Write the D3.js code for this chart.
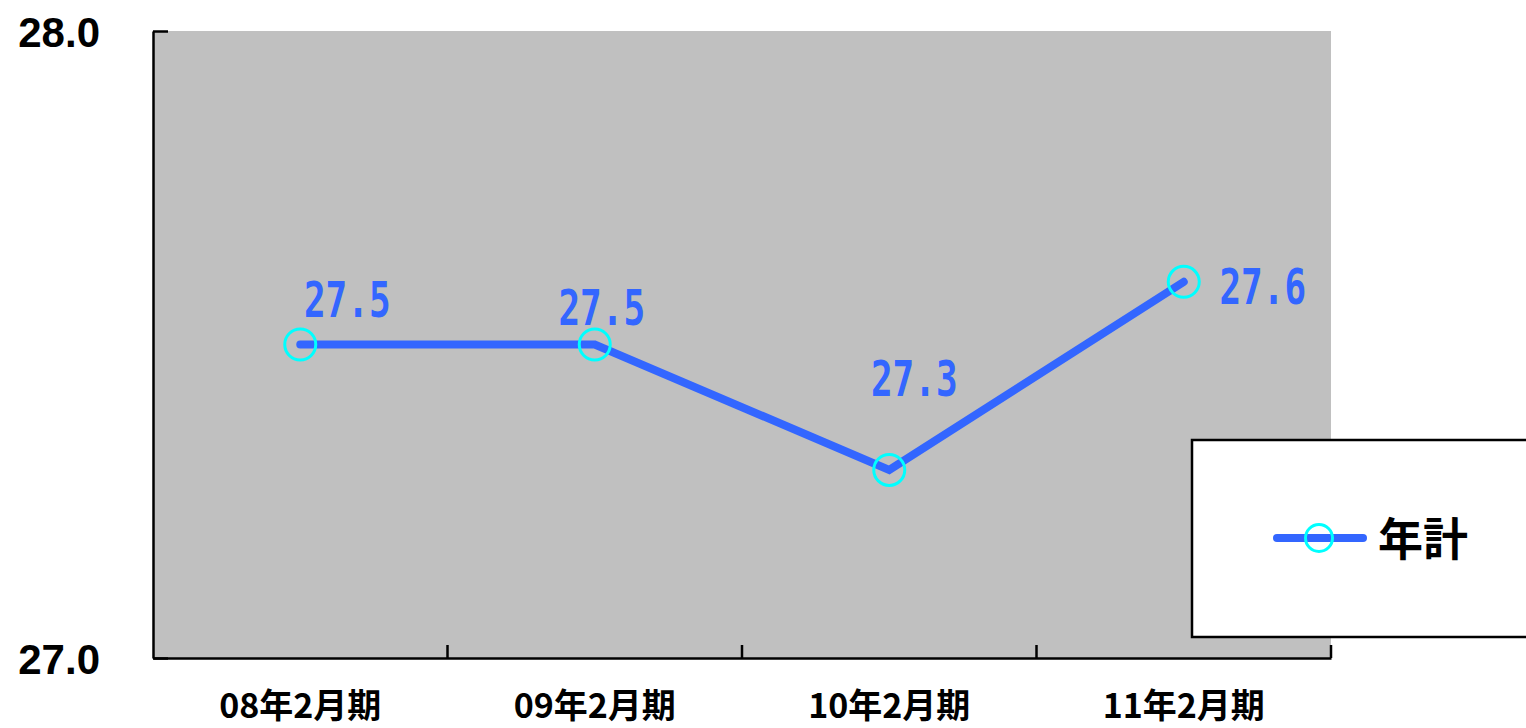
<!DOCTYPE html>
<html>
<head>
<meta charset="utf-8">
<script src="https://cdn.jsdelivr.net/npm/d3@7"></script>
<style>
  html, body { margin: 0; padding: 0; background: #fff; }
  svg { display: block; }
</style>
</head>
<body>
<div id="chart"></div>
<script>
// データ
const categories = ['08年2月期', '09年2月期', '10年2月期', '11年2月期'];
const values = [27.5, 27.5, 27.3, 27.6];
const yTicks = [27.0, 28.0];
const seriesName = '年計';

// ラベル位置（点からのずれ）
const labelOffsets = [[47, -28], [7, -20], [25, -74], [79, 22]];

const W = 1526, H = 728;
const plotLeft = 153, plotRight = 1331, plotTop = 31, plotBottom = 658;
const lineColor = '#3366FF';
const markerColor = '#00FFFF';

const svg = d3.select('#chart').append('svg')
  .attr('width', W).attr('height', H);

const x = d3.scaleBand().domain(categories).range([plotLeft, plotRight]);
const y = d3.scaleLinear().domain([27, 28]).range([plotBottom, plotTop]);

// 背景
svg.append('rect')
  .attr('x', plotLeft).attr('y', plotTop)
  .attr('width', plotRight - plotLeft).attr('height', plotBottom - plotTop)
  .attr('fill', '#C0C0C0');

// Y軸
const yAxis = svg.append('g')
  .attr('transform', `translate(${plotLeft},0)`)
  .call(d3.axisLeft(y).tickValues(yTicks).tickFormat(d3.format('.1f'))
    .tickSizeInner(-15).tickSizeOuter(0).tickPadding(53));
yAxis.selectAll('path, line').attr('stroke', '#000').attr('stroke-width', 2.5);
yAxis.selectAll('text')
  .attr('font-family', 'Liberation Sans, Arial, sans-serif')
  .attr('font-weight', 'bold')
  .attr('font-size', 42)
  .attr('fill', '#000')
  .attr('dy', '0.36em');

// X軸
const xAxis = svg.append('g')
  .attr('transform', `translate(0,${plotBottom})`)
  .call(d3.axisBottom(x).tickSize(0).tickSizeOuter(0));
xAxis.select('path').attr('stroke', '#000').attr('stroke-width', 2.5);
xAxis.selectAll('text')
  .attr('y', 60)
  .attr('dy', null)
  .attr('font-family', '"Noto Sans CJK JP", sans-serif')
  .attr('font-weight', 'bold')
  .attr('font-size', 34)
  .attr('fill', '#000');

// 区切り目盛り
xAxis.selectAll('.sep')
  .data(categories)
  .enter().append('line')
  .attr('class', 'sep')
  .attr('x1', d => x(d) + x.bandwidth())
  .attr('x2', d => x(d) + x.bandwidth())
  .attr('y1', 0).attr('y2', -13)
  .attr('stroke', '#000').attr('stroke-width', 2.5);

// 折れ線
const pts = categories.map((c, i) => ({ c, v: values[i], i }));
const line = d3.line()
  .x(d => x(d.c) + x.bandwidth() / 2)
  .y(d => y(d.v));

svg.append('path')
  .datum(pts)
  .attr('d', line)
  .attr('fill', 'none')
  .attr('stroke', lineColor)
  .attr('stroke-width', 8)
  .attr('stroke-linecap', 'round')
  .attr('stroke-linejoin', 'miter');

svg.append('g').selectAll('circle')
  .data(pts)
  .enter().append('circle')
  .attr('cx', d => x(d.c) + x.bandwidth() / 2)
  .attr('cy', d => y(d.v))
  .attr('r', 15.5)
  .attr('fill', 'none')
  .attr('stroke', markerColor)
  .attr('stroke-width', 3);

// データラベル
svg.append('g').selectAll('text')
  .data(pts)
  .enter().append('text')
  .attr('transform', d => {
    const px = x(d.c) + x.bandwidth() / 2 + labelOffsets[d.i][0];
    const py = y(d.v) + labelOffsets[d.i][1];
    return `translate(${px},${py}) scale(1,1.4)`;
  })
  .attr('text-anchor', 'middle')
  .attr('font-family', '"DejaVu Sans Mono", monospace')
  .attr('font-weight', 'bold')
  .attr('font-size', 36)
  .attr('fill', lineColor)
  .text(d => d3.format('.1f')(d.v));

// 凡例
const lg = svg.append('g');
lg.append('rect')
  .attr('x', 1192).attr('y', 440)
  .attr('width', 360).attr('height', 197)
  .attr('fill', '#fff')
  .attr('stroke', '#000').attr('stroke-width', 2.5);
lg.append('line')
  .attr('x1', 1277).attr('x2', 1363)
  .attr('y1', 538).attr('y2', 538)
  .attr('stroke', lineColor).attr('stroke-width', 8)
  .attr('stroke-linecap', 'round');
lg.append('circle')
  .attr('cx', 1319).attr('cy', 538).attr('r', 13.5)
  .attr('fill', 'none')
  .attr('stroke', markerColor).attr('stroke-width', 3);
lg.append('text')
  .attr('x', 1378).attr('y', 540)
  .attr('dy', '0.36em')
  .attr('font-family', '"Noto Sans CJK JP", sans-serif')
  .attr('font-weight', 'bold')
  .attr('font-size', 45)
  .attr('fill', '#000')
  .text(seriesName);
</script>
</body>
</html>
